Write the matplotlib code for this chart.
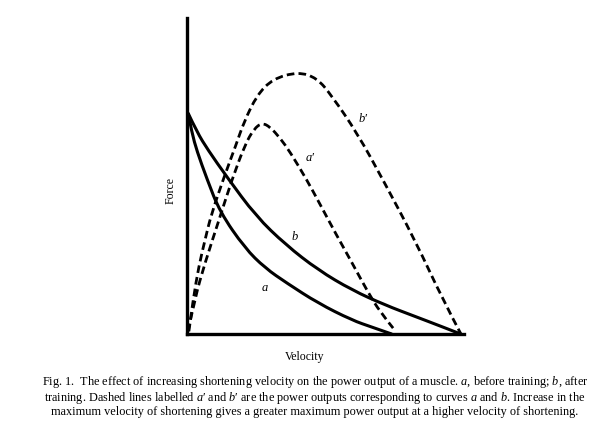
import matplotlib
matplotlib.use("Agg")
import matplotlib.pyplot as plt
from matplotlib.path import Path
from matplotlib.patches import PathPatch

plt.rcParams["font.family"] = ["Liberation Serif", "DejaVu Serif"]
plt.rcParams["mathtext.fontset"] = "custom"
plt.rcParams["mathtext.it"] = "Liberation Serif:italic"
plt.rcParams["mathtext.rm"] = "Liberation Serif"
plt.rcParams["lines.scale_dashes"] = False

# force-velocity curves (velocity and force in relative units)
a_vel = [0.004, 0.018, 0.036, 0.072, 0.119, 0.209, 0.282, 0.361, 0.473, 0.596, 0.668, 0.740]
a_force = [0.699, 0.636, 0.579, 0.491, 0.386, 0.272, 0.209, 0.161, 0.098, 0.044, 0.022, 0.0]

b_vel = [0.004, 0.036, 0.076, 0.144, 0.249, 0.357, 0.473, 0.596, 0.715, 0.823, 0.913, 0.989]
b_force = [0.699, 0.639, 0.582, 0.497, 0.373, 0.282, 0.203, 0.139, 0.092, 0.056, 0.026, 0.0]

# power output curves (dashed)
a2_vel = [0.004, 0.029, 0.065, 0.119, 0.162, 0.209, 0.242, 0.271, 0.300, 0.336, 0.372,
          0.433, 0.480, 0.538, 0.596, 0.653, 0.697, 0.744]
a2_power = [0.009, 0.114, 0.225, 0.370, 0.487, 0.598, 0.649, 0.668, 0.655, 0.620, 0.576,
            0.487, 0.411, 0.316, 0.225, 0.133, 0.070, 0.019]

b2_vel = [0.007, 0.022, 0.043, 0.065, 0.087, 0.134, 0.177, 0.206, 0.253, 0.310, 0.401,
          0.469, 0.523, 0.614, 0.708, 0.823, 0.924, 0.989]
b2_power = [0.009, 0.108, 0.215, 0.297, 0.376, 0.497, 0.598, 0.671, 0.756, 0.807, 0.829,
            0.810, 0.753, 0.636, 0.487, 0.297, 0.108, 0.0]

labels = ["a", "b", "a\u2032", "b\u2032"]
label_pos = [(0.282, 0.146), (0.390, 0.307), (0.444, 0.557), (0.635, 0.680)]

caption = ("Fig. 1.  The effect of increasing shortening velocity on the power output of a muscle. $\\it{a}$, before training; $\\it{b}$, after\n"
           "training. Dashed lines labelled $\\it{a}$\u2032 and $\\it{b}$\u2032 are the power outputs corresponding to curves $\\it{a}$ and $\\it{b}$. Increase in the\n"
           "maximum velocity of shortening gives a greater maximum power output at a higher velocity of shortening.")


def smooth_path(xs, ys):
    # quadratic bezier through midpoints, read points act as control points
    pts = list(zip(xs, ys))
    verts = [pts[0]]
    codes = [Path.MOVETO]
    for i in range(1, len(pts) - 1):
        mid = ((pts[i][0] + pts[i + 1][0]) / 2, (pts[i][1] + pts[i + 1][1]) / 2)
        if i == len(pts) - 2:
            mid = pts[-1]
        verts += [pts[i], mid]
        codes += [Path.CURVE3, Path.CURVE3]
    return Path(verts, codes)


fig = plt.figure(figsize=(6.05, 4.24), dpi=100)
ax = fig.add_axes([0.309, 0.212, 0.458, 0.746])

ax.add_patch(PathPatch(smooth_path(a_vel, a_force), fill=False, color="black", lw=2.2, clip_on=False))
ax.add_patch(PathPatch(smooth_path(b_vel, b_force), fill=False, color="black", lw=2.2, clip_on=False))
ax.add_patch(PathPatch(smooth_path(a2_vel, a2_power), fill=False, color="black", lw=2.0,
                       linestyle=(0, (5.5, 3)), clip_on=False))
ax.add_patch(PathPatch(smooth_path(b2_vel, b2_power), fill=False, color="black", lw=2.0,
                       linestyle=(0, (5.5, 3)), clip_on=False))

for txt, (x, y) in zip(labels, label_pos):
    ax.text(x, y, txt, style="italic", fontsize=9, ha="center", va="center")

ax.set_xlim(0, 1)
ax.set_ylim(0, 1)
for side in ["top", "right"]:
    ax.spines[side].set_visible(False)
for side in ["left", "bottom"]:
    ax.spines[side].set_linewidth(2.4)
ax.set_xticks([])
ax.set_yticks([])

fig.text(305 / 605, 1 - 357 / 424, "Velocity", fontsize=8.5, ha="center", va="center")
fig.text(171 / 605, 1 - 190 / 424, "Force", fontsize=8.5, ha="center", va="center", rotation=90)
fig.text(315 / 605, 1 - 396 / 424, caption, fontsize=8.8, ha="center", va="center",
         multialignment="center", linespacing=1.0)

fig.savefig("out.png", dpi=100)
